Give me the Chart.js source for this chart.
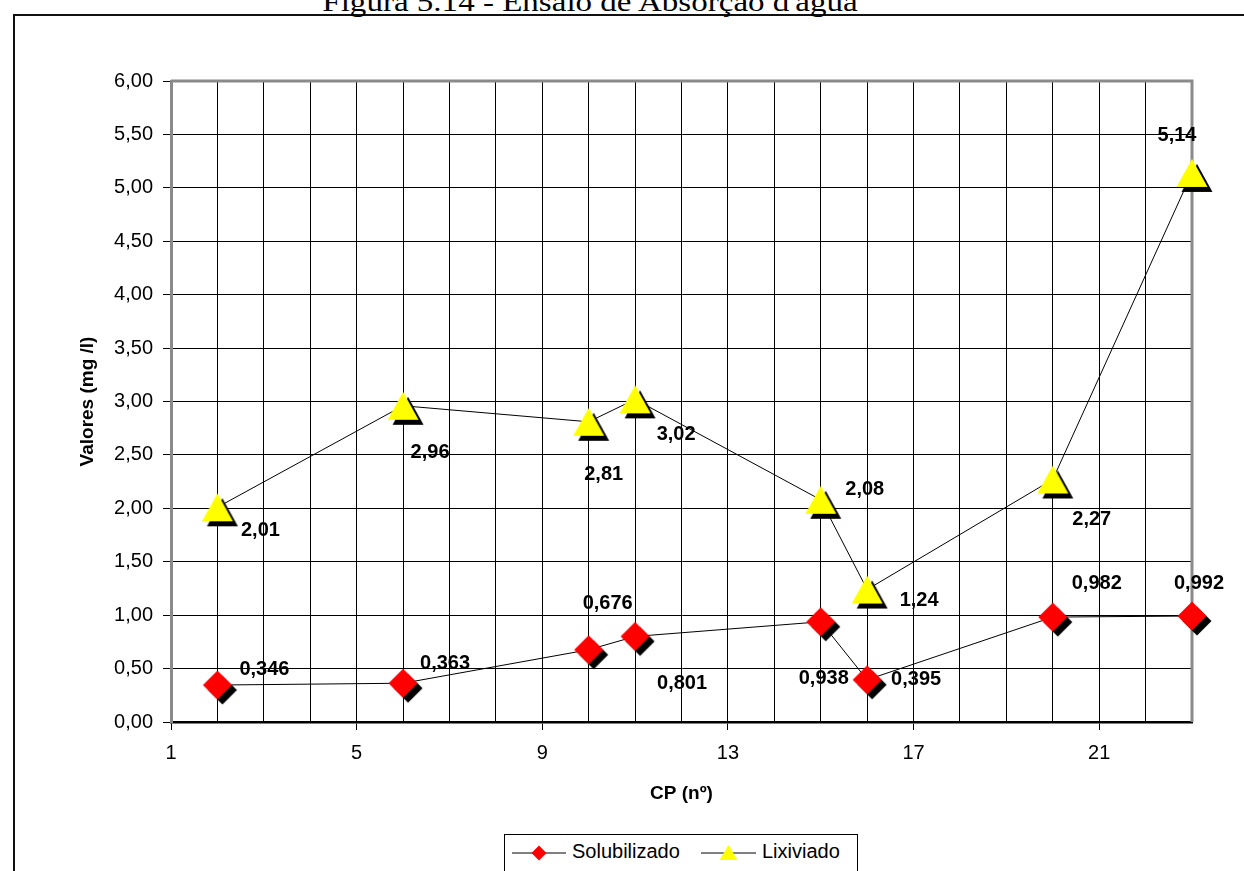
<!DOCTYPE html>
<html>
<head>
<meta charset="utf-8">
<script src="https://cdn.jsdelivr.net/npm/chart.js@4.4.0/dist/chart.umd.min.js"></script>
<style>
  html, body { margin: 0; padding: 0; background: #fff; overflow: hidden; }
  #pagina { position: relative; width: 1244px; height: 871px; overflow: hidden; }
  #moldura { position: absolute; left: 13px; top: 14px; width: 1300px; height: 900px; border: 2px solid #111; box-sizing: border-box; }
  #titulo { position: absolute; left: 0; top: -12px; width: 1180px; text-align: center; white-space: nowrap;
            font: 28px "Liberation Serif", serif; line-height: 28px; transform: scaleX(1.18); }
  #grafico { position: absolute; left: 0; top: 0; }
  #legenda { position: absolute; left: 504px; top: 834px; width: 354px; height: 45px; border: 1px solid #000;
             box-sizing: border-box; background: #fff; font: 20px "Liberation Sans", Arial, sans-serif; }
  #legenda svg, #legenda span { position: absolute; }
</style>
</head>
<body>
<div id="pagina">
  <div id="moldura"></div>
  <div id="titulo">Figura 5.14 - Ensaio de Absorção d'água</div>
  <canvas id="grafico" width="1244" height="871"></canvas>
  <div id="legenda">
    <svg style="left:7px;top:8px" width="54" height="20">
      <line x1="0" y1="10" x2="54" y2="10" stroke="#000" stroke-width="1"/>
      <polygon points="27,2.5 34.5,10 27,17.5 19.5,10" fill="#ff0000"/>
    </svg>
    <span style="left:67px;top:5px">Solubilizado</span>
    <svg style="left:196px;top:8px" width="55" height="20">
      <line x1="0" y1="10" x2="55" y2="10" stroke="#000" stroke-width="1"/>
      <polygon points="27.5,2 36.5,17 18.5,17" fill="#ffff00"/>
    </svg>
    <span style="left:257px;top:5px">Lixiviado</span>
  </div>
</div>
<script>
// CP (nº) de cada corpo de prova
const cp = [2, 6, 10, 11, 15, 16, 20, 23];
const solubilizado = [0.346, 0.363, 0.676, 0.801, 0.938, 0.395, 0.982, 0.992];
const lixiviado = [2.01, 2.96, 2.81, 3.02, 2.08, 1.24, 2.27, 5.14];
const xRotulos = [1, 5, 9, 13, 17, 21];

// deslocamento dos rotulos de valor (px) em relacao ao ponto
const solubDx = [47, 42, 19, 47, 3, 49, 44, 7];
const solubDy = [-16, -20, -46, 47, 57, 0, -34, -33];
const lixDx = [43, 27, 15, 41, 44, 52, 39, -15];
const lixDy = [23, 47, 53, 35, -10, 11, 40, -37];

const fonte = '"Liberation Sans", Arial, sans-serif';

// marcador com sombra preta, como no Excel
function marcador(forma, cor) {
    const c = document.createElement('canvas');
    c.width = 46; c.height = 46;
    const g = c.getContext('2d');
    function desenha(dx, dy, preenchimento) {
        const cx = 23 + dx, cy = 23 + dy;
        g.beginPath();
        if (forma === 'losango') {
            const r = 14.5;
            g.moveTo(cx, cy - r); g.lineTo(cx + r, cy); g.lineTo(cx, cy + r); g.lineTo(cx - r, cy);
        } else {
            const w = 31, h = 28;
            g.moveTo(cx, cy - h / 2); g.lineTo(cx + w / 2, cy + h / 2); g.lineTo(cx - w / 2, cy + h / 2);
        }
        g.closePath();
        g.fillStyle = preenchimento;
        g.fill();
    }
    desenha(5, 5, '#000');
    desenha(0, 0, cor);
    return c;
}

function pontos(valores) {
    return cp.map((x, i) => ({ x: x, y: valores[i] }));
}

const bordaArea = {
    id: 'bordaArea',
    beforeDatasetsDraw(chart) {
        const ctx = chart.ctx, a = chart.chartArea;
        ctx.save();
        ctx.strokeStyle = '#8a8a8a';
        ctx.lineWidth = 3;
        ctx.beginPath();
        ctx.moveTo(a.left, a.top);
        ctx.lineTo(a.right, a.top);
        ctx.lineTo(a.right, a.bottom);
        ctx.stroke();
        ctx.restore();
    }
};

const rotulosValores = {
    id: 'rotulosValores',
    afterDatasetsDraw(chart) {
        const ctx = chart.ctx;
        chart.data.datasets.forEach((ds, i) => {
            const meta = chart.getDatasetMeta(i);
            ctx.save();
            ctx.font = 'bold 20px ' + fonte;
            ctx.fillStyle = '#000';
            ctx.textAlign = 'center';
            ctx.textBaseline = 'middle';
            meta.data.forEach((pt, j) => {
                const txt = String(ds.data[j].y).replace('.', ',');
                ctx.fillText(txt, pt.x + ds.desloc.dx[j], pt.y + ds.desloc.dy[j]);
            });
            ctx.restore();
        });
    }
};

const ctx = document.getElementById('grafico').getContext('2d');
new Chart(ctx, {
    type: 'line',
    data: {
        datasets: [{
            label: 'Solubilizado',
            data: pontos(solubilizado),
            borderColor: '#000',
            borderWidth: 1,
            pointStyle: marcador('losango', '#ff0000'),
            clip: false,
            desloc: { dx: solubDx, dy: solubDy }
        }, {
            label: 'Lixiviado',
            data: pontos(lixiviado),
            borderColor: '#000',
            borderWidth: 1,
            pointStyle: marcador('triangulo', '#ffff00'),
            clip: false,
            desloc: { dx: lixDx, dy: lixDy }
        }]
    },
    options: {
        responsive: false,
        animation: false,
        events: [],
        layout: { padding: { left: 40, right: 52, top: 81, bottom: 66 } },
        plugins: {
            legend: { display: false },
            tooltip: { enabled: false }
        },
        scales: {
            x: {
                type: 'linear',
                min: 1,
                max: 23,
                afterFit: s => { s.height = 83; },
                ticks: {
                    stepSize: 1,
                    autoSkip: false,
                    maxRotation: 0,
                    padding: 11,
                    color: '#000',
                    font: { family: fonte, size: 20 },
                    callback: v => xRotulos.includes(v) ? String(v) : ''
                },
                grid: {
                    color: c => (c.tick && (c.tick.value === 1 || c.tick.value === 23)) ? 'rgba(0,0,0,0)' : '#000',
                    lineWidth: 1,
                    tickLength: 8,
                    tickColor: c => (c.tick && xRotulos.includes(c.tick.value)) ? '#000' : 'rgba(0,0,0,0)'
                },
                border: { color: '#000', width: 2.5 },
                title: {
                    display: true,
                    text: 'CP (nº)',
                    color: '#000',
                    padding: 0,
                    font: { family: fonte, size: 19, weight: 'bold' }
                }
            },
            y: {
                min: 0,
                max: 6,
                afterFit: s => { s.width = 131; },
                ticks: {
                    stepSize: 0.5,
                    padding: 10,
                    color: '#000',
                    font: { family: fonte, size: 20 },
                    callback: v => v.toFixed(2).replace('.', ',')
                },
                grid: { color: '#000', lineWidth: 1, tickLength: 8 },
                border: { color: '#8a8a8a', width: 3 },
                title: {
                    display: true,
                    text: 'Valores (mg /l)',
                    color: '#000',
                    padding: { top: 36, bottom: 0 },
                    font: { family: fonte, size: 19, weight: 'bold' }
                }
            }
        }
    },
    plugins: [bordaArea, rotulosValores]
});
</script>
</body>
</html>
